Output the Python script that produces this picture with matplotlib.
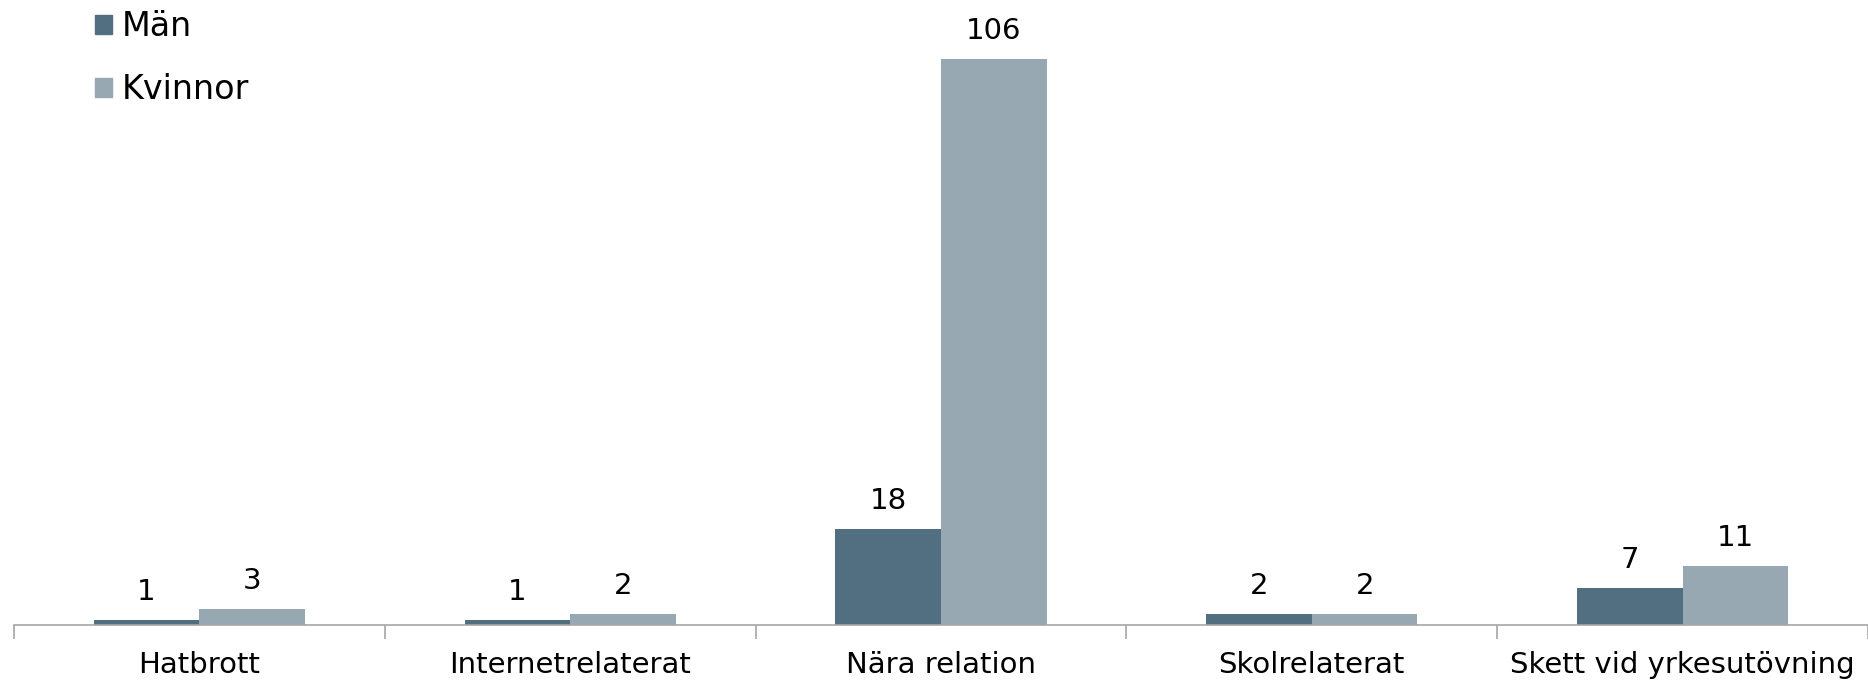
import matplotlib
matplotlib.use("Agg")
import matplotlib.pyplot as plt
from matplotlib.patches import Patch
import numpy as np

categories = ["Hatbrott", "Internetrelaterat", "Nära relation", "Skolrelaterat",
              "Skett vid yrkesutövning"]
man = [1, 1, 18, 2, 7]
kvinnor = [3, 2, 106, 2, 11]

col_man = "#526f82"
col_kv = "#98a8b2"
axis_col = "#a6a6a6"

plt.rcParams['font.family'] = ['Verdana', 'DejaVu Sans']

fig = plt.figure(figsize=(18.68, 6.81), dpi=100)
# axes bottom at the x-axis line, right edge runs off the picture
ax = fig.add_axes([14 / 1868, (681 - 625) / 681, 1 - 14 / 1868, 625 / 681])

x = np.arange(len(categories))
w = 0.285
ax.bar(x - w / 2, man, w, color=col_man, label="Män")
ax.bar(x + w / 2, kvinnor, w, color=col_kv, label="Kvinnor")

for xi, v in zip(x, man):
    ax.annotate(str(v), (xi - w / 2, v), xytext=(0, 10), textcoords="offset points",
                ha="center", va="bottom", fontsize=21)
for xi, v in zip(x, kvinnor):
    ax.annotate(str(v), (xi + w / 2, v), xytext=(0, 10), textcoords="offset points",
                ha="center", va="bottom", fontsize=21)

ax.set_xlim(-0.5, 4.475)
ax.set_ylim(0, 106 * 625 / 566)

for s in ["top", "right", "left"]:
    ax.spines[s].set_visible(False)
ax.spines["bottom"].set_color(axis_col)
ax.spines["bottom"].set_linewidth(1.2)
ax.set_yticks([])

# boundary ticks as major, labels on minor ticks at centres
ax.set_xticks(np.arange(-0.5, len(categories), 1.0))
ax.set_xticklabels([])
ax.tick_params(axis="x", which="major", length=10, width=1.2, color=axis_col, direction="out")
ax.set_xticks(x, minor=True)
ax.set_xticklabels(categories, minor=True, fontsize=21)
ax.tick_params(axis="x", which="minor", length=0, pad=19)

handles = [Patch(color=col_man, label="Män"), Patch(color=col_kv, label="Kvinnor")]
fig.legend(handles=handles, loc="upper left", bbox_to_anchor=(95 / 1868, 1 - 10 / 681),
           frameon=False, fontsize=24, handlelength=0.5, handleheight=0.5,
           handletextpad=0.3, labelspacing=0.9, borderaxespad=0, borderpad=0)

fig.savefig("out.png", dpi=100)
